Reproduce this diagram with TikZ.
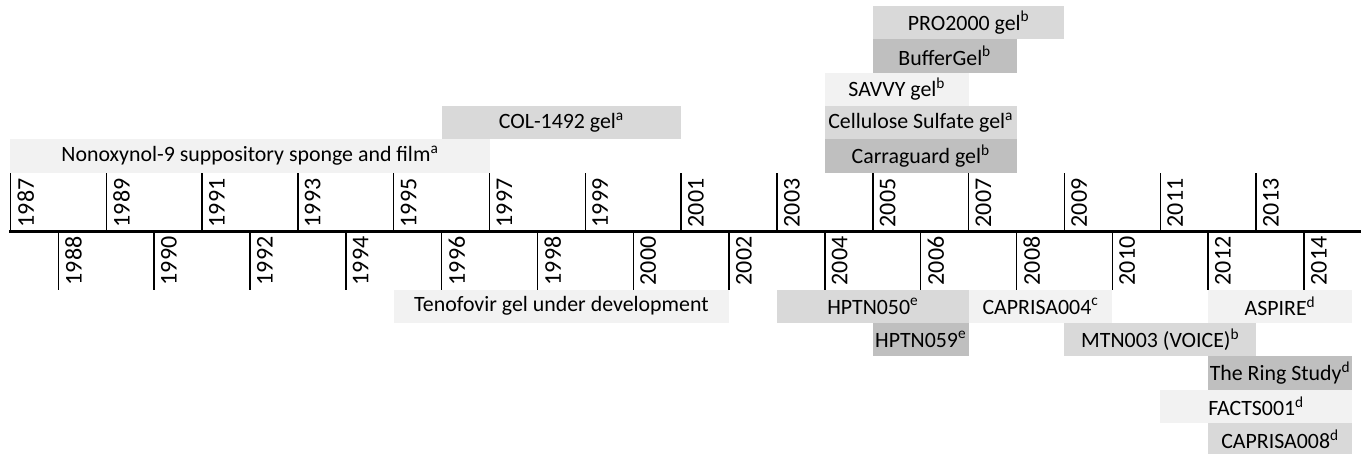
\documentclass[tikz,border=0pt]{standalone}
\usepackage{fontspec}
\setmainfont{Carlito}
\usepackage{xcolor}
\definecolor{cpale}{HTML}{F2F2F2}
\definecolor{cmid}{HTML}{D9D9D9}
\definecolor{cdark}{HTML}{BFBFBF}
\usepackage{tikz}
\usetikzlibrary{positioning}

\begin{document}
\begin{tikzpicture}[x=35.93pt, y=25pt,
    lab/.style={font=\fontsize{16.4}{19}\selectfont, text=black},
    yrlab/.style={font=\fontsize{18}{21}\selectfont, rotate=90, anchor=north west,
      inner xsep=3pt, inner ysep=5pt}]
  \useasboundingbox (-0.219,-6.65) rectangle (28.19,6.946);
  % Eje de años
  \draw[line width=2pt] (-0.03,0) -- (28.19,0);
  \foreach \i in {0,2,...,26} {
    \pgfmathtruncatemacro{\yr}{1987+\i}
    \draw[line width=1.1pt] (\i,0) -- (\i,1.77);
    \node[yrlab] (y\yr) at (\i,0) {\yr};
  }
  \foreach \i in {1,3,...,27} {
    \pgfmathtruncatemacro{\yr}{1987+\i}
    \draw[line width=1.1pt] (\i,0) -- (\i,-1.74);
    \node[yrlab] (y\yr) at (\i,-1.74) {\yr};
  }
  % Geles (arriba)
  \fill[cpale] (0,1.77) rectangle (10,2.77);
  \node[lab] (non9) at (5,2.27) {Nonoxynol-9 suppository sponge and film\textsuperscript{a}};
  \fill[cmid] (9,2.77) rectangle (14,3.77);
  \node[lab] (col) at (11.5,3.27) {COL-1492 gel\textsuperscript{a}};
  \fill[cdark] (17,1.77) rectangle (21,2.77);
  \node[lab] (carra) at (19,2.27) {Carraguard gel\textsuperscript{b}};
  \fill[cmid] (17,2.77) rectangle (21,3.77);
  \node[lab] (cellu) at (19,3.27) {Cellulose Sulfate gel\textsuperscript{a}};
  \fill[cpale] (17,3.77) rectangle (20,4.77);
  \node[lab] (savvy) at (18.5,4.27) {SAVVY gel\textsuperscript{b}};
  \fill[cdark] (18,4.77) rectangle (21,5.77);
  \node[lab] (buffer) at (19.5,5.27) {BufferGel\textsuperscript{b}};
  \fill[cmid] (18,5.77) rectangle (22,6.77);
  \node[lab] (pro) at (20,6.27) {PRO2000 gel\textsuperscript{b}};
  % Ensayos (abajo)
  \fill[cpale] (8,-1.74) rectangle (15,-2.74);
  \node[lab] (teno) at (11.5,-2.24) {Tenofovir gel under development};
  \fill[cmid] (16,-1.74) rectangle (20,-2.74);
  \node[lab] (h050) at (18,-2.24) {HPTN050\textsuperscript{e}};
  \fill[cdark] (18,-2.74) rectangle (20,-3.74);
  \node[lab] (h059) at (19,-3.24) {HPTN059\textsuperscript{e}};
  \fill[cpale] (20,-1.74) rectangle (23,-2.74);
  \node[lab] (cap004) at (21.5,-2.24) {CAPRISA004\textsuperscript{c}};
  \fill[cpale] (25,-1.74) rectangle (28,-2.74);
  \node[lab] (aspire) at (26.5,-2.24) {ASPIRE\textsuperscript{d}};
  \fill[cmid] (22,-2.74) rectangle (26,-3.74);
  \node[lab] (voice) at (24,-3.24) {MTN003 (VOICE)\textsuperscript{b}};
  \fill[cdark] (25,-3.74) rectangle (28,-4.74);
  \node[lab] (ring) at (26.5,-4.24) {The Ring Study\textsuperscript{d}};
  \fill[cpale] (24,-4.74) rectangle (28,-5.74);
  \node[lab] (facts) at (26,-5.24) {FACTS001\textsuperscript{d}};
  \fill[cmid] (25,-5.74) rectangle (28,-6.74);
  \node[lab] (cap008) at (26.5,-6.24) {CAPRISA008\textsuperscript{d}};
\end{tikzpicture}
\end{document}
